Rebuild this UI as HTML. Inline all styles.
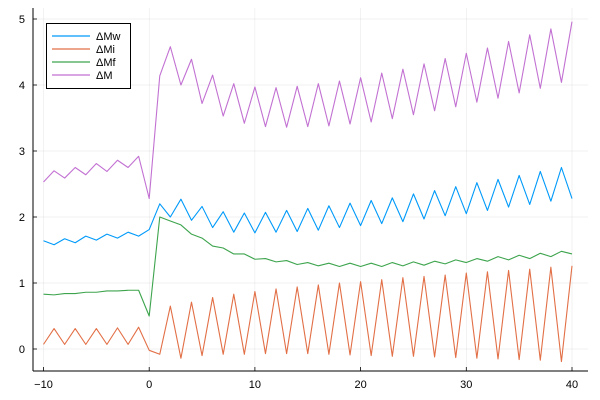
<!DOCTYPE html>
<html><head><meta charset="utf-8"><style>
html,body{margin:0;padding:0;background:#fff;}
svg{display:block;font-family:"Liberation Sans","DejaVu Sans",sans-serif;}
</style></head><body>
<svg id="chart" width="600" height="400" viewBox="0 0 600 400" xmlns="http://www.w3.org/2000/svg">
<rect x="0" y="0" width="600" height="400" fill="#fff"/>
<g id="grid"></g>
<g id="axes"></g>
<g id="series"></g>
<g id="legend"></g>
</svg>
<script>
const xStart = -10;
const xTicks = [-10, 0, 10, 20, 30, 40];
const yTicks = [0, 1, 2, 3, 4, 5];
const seriesNames = ["ΔMw", "ΔMi", "ΔMf", "ΔM"];
const seriesColors = ["#009af9", "#e26f46", "#3da44d", "#c271d2"];
const dMw = [1.64,1.58,1.67,1.61,1.71,1.65,1.74,1.68,1.77,1.71,1.81,2.20,2.00,2.27,1.95,2.16,1.84,2.08,1.77,2.06,1.76,2.07,1.77,2.10,1.78,2.13,1.80,2.17,1.84,2.21,1.87,2.25,1.90,2.29,1.93,2.35,1.97,2.40,2.02,2.46,2.05,2.52,2.10,2.57,2.15,2.63,2.19,2.69,2.24,2.75,2.28];
const dMi = [0.07,0.31,0.07,0.31,0.07,0.31,0.07,0.32,0.07,0.33,-0.02,-0.08,0.65,-0.14,0.71,-0.10,0.78,-0.08,0.83,-0.08,0.87,-0.07,0.91,-0.07,0.94,-0.07,0.97,-0.08,1.00,-0.09,1.02,-0.10,1.05,-0.11,1.08,-0.11,1.10,-0.12,1.12,-0.13,1.15,-0.14,1.17,-0.15,1.19,-0.16,1.21,-0.17,1.24,-0.19,1.26];
const dMf = [0.83,0.82,0.84,0.84,0.86,0.86,0.88,0.88,0.89,0.89,0.50,2.00,1.94,1.88,1.74,1.68,1.56,1.53,1.44,1.44,1.36,1.37,1.32,1.34,1.28,1.31,1.26,1.30,1.25,1.30,1.25,1.30,1.25,1.31,1.26,1.32,1.27,1.33,1.29,1.35,1.31,1.37,1.33,1.40,1.35,1.42,1.37,1.45,1.40,1.48,1.44];
const dM = [2.53,2.70,2.59,2.75,2.64,2.81,2.69,2.86,2.75,2.92,2.28,4.14,4.58,4.00,4.39,3.72,4.15,3.53,4.02,3.42,3.97,3.37,3.96,3.36,3.98,3.37,4.02,3.38,4.06,3.41,4.11,3.44,4.18,3.49,4.24,3.55,4.32,3.61,4.40,3.67,4.48,3.74,4.56,3.80,4.66,3.88,4.76,3.95,4.85,4.04,4.96];
const allSeries = [dMw, dMi, dMf, dM];

const NS = "http://www.w3.org/2000/svg";
const L = 33, R = 588, T = 8, B = 371;
function xs(v){ return 43.5 + (v + 10) * (572 - 43.5) / 50; }
function ys(v){ return 349 - v * 66; }
function mk(tag, attrs, parent){
  const e = document.createElementNS(NS, tag);
  for (const k in attrs) e.setAttribute(k, attrs[k]);
  parent.appendChild(e);
  return e;
}
const grid = document.getElementById('grid');
const axes = document.getElementById('axes');
const ser = document.getElementById('series');
const leg = document.getElementById('legend');

xTicks.forEach(t => {
  const g = mk('line', {x1: xs(t), x2: xs(t), y1: T, y2: B, stroke: '#000', 'stroke-opacity': 0.1, 'stroke-width': 0.5}, grid);
  
  
  const tk = mk('line', {x1: xs(t), x2: xs(t), y1: B, y2: B - 4, stroke: '#000', 'stroke-width': 0.8}, axes);
  
  
  const tx = mk('text', {x: xs(t), y: 388, 'text-anchor': 'middle', 'font-size': 11, fill: '#000'}, axes);
  tx.textContent = t < 0 ? '\u2212' + Math.abs(t) : String(t);
  
  
});
yTicks.forEach(t => {
  const g = mk('line', {x1: L, x2: R, y1: ys(t), y2: ys(t), stroke: '#000', 'stroke-opacity': 0.1, 'stroke-width': 0.5}, grid);
  
  
  const tk = mk('line', {x1: L, x2: L + 4, y1: ys(t), y2: ys(t), stroke: '#000', 'stroke-width': 0.8}, axes);
  
  
  const tx = mk('text', {x: 25, y: ys(t) + 4, 'text-anchor': 'end', 'font-size': 11, fill: '#000'}, axes);
  tx.textContent = String(t);
  
  
});
const xa = mk('line', {x1: L, x2: R, y1: B, y2: B, stroke: '#000', 'stroke-width': 1}, axes);


const ya = mk('line', {x1: L, x2: L, y1: T, y2: B, stroke: '#000', 'stroke-width': 1}, axes);



allSeries.forEach((arr, i) => {
  const pts = arr.map((v, j) => xs(xStart + j).toFixed(2) + ',' + ys(v).toFixed(2)).join(' ');
  const pl = mk('polyline', {points: pts, fill: 'none', stroke: seriesColors[i], 'stroke-width': 1.1, 'stroke-linejoin': 'round'}, ser);
  
  
});

const box = mk('rect', {x: 46.5, y: 23.5, width: 84, height: 65, fill: '#fff', stroke: '#000', 'stroke-width': 1}, leg);


seriesNames.forEach((n, i) => {
  const y = 36 + i * 13;
  const ln = mk('line', {x1: 52, x2: 90, y1: y, y2: y, stroke: seriesColors[i], 'stroke-width': 1.2}, leg);
  
  
  const tx = mk('text', {x: 96, y: y + 4, 'font-size': 11, fill: '#000'}, leg);
  tx.textContent = n;
  
  
});
</script>
</body></html>
